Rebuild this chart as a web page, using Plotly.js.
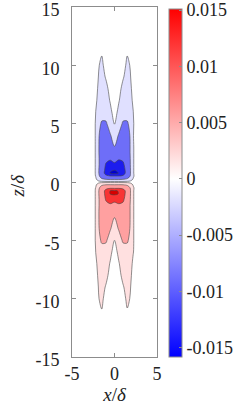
<!DOCTYPE html>
<html>
<head>
<meta charset="utf-8">
<script src="https://cdn.plot.ly/plotly-3.0.1.min.js"></script>
<style>html,body{margin:0;padding:0;background:#fff;}#chart{width:249px;height:415px;}</style>
</head>
<body>
<div id="chart"></div>
<script>
// ---- data (field values in units of 1e-3) ----
const UNIT = 1e-3;
const X_POS = [-5, -2.6, -2.2, -1.9, -1.5, -1, -0.5, 0, 0.5, 1, 1.5, 1.9, 2.2, 2.6, 5];
const Z_POS = [-15, -12, -11, -10, -9, -8, -7, -6, -5, -4, -3, -2.5, -2, -1.5, -1, -0.75, -0.5, -0.25,
               0, 0.25, 0.5, 0.75, 1, 1.5, 2, 2.5, 3, 4, 5, 6, 7, 8, 9, 10, 11, 12, 15];
const FIELD_MILLI = [
  [0,0,0,0,0,0,0,0,0,0,0,0,0,0,0],                       // -15
  [0,0,0,0,0,0,0,0,0,0,0,0,0,0,0],                       // -12
  [0,0,0,0.4,0.95,0.2,0,0,0,0.2,0.9,0.4,0,0,0],          // -11
  [0,0,0,0.9,1.4,0.3,0,0,0,0.3,1.4,0.85,0,0,0],          // -10
  [0,0,0,1.0,1.8,0.8,0,0,0,0.8,1.8,1.0,0,0,0],           // -9
  [0,0,0.3,1.3,2.2,1.6,0.3,0,0.3,1.6,2.2,1.3,0.3,0,0],   // -8
  [0,0,0.6,1.6,2.5,2.2,0.8,0,0.8,2.2,2.5,1.6,0.6,0,0],   // -7
  [0,0,1.05,1.5,3,3.2,1.6,0,1.6,3.2,3,1.5,1.1,0,0],      // -6
  [0,0,1.2,3.5,5.7,5.5,3.2,1.0,3.2,5.5,5.6,3.5,1.2,0,0], // -5
  [0,0,1.2,4.6,6.3,6,5.3,3.2,5.3,6,6.3,4.6,1.2,0,0],     // -4
  [0,0,1.2,4.7,6.5,7,6.2,5.1,6.2,7,6.5,4.7,1.2,0,0],     // -3
  [0,0,1.2,4.7,6.5,7.5,7.5,7,7.5,7.5,6.5,4.7,1.2,0,0],   // -2.5
  [0,0,1.2,4.6,6.5,8.5,9.3,8.8,9.3,8.8,6.5,4.7,1.2,0,0], // -2
  [0,0,1.2,4.6,6.5,10.5,11.8,11,11.8,11,7,4.8,1.2,0,0],  // -1.5
  [0,0,1.2,4.5,8,11,14.2,14.8,13.9,11.5,8.5,4.8,1.2,0,0],// -1
  [0,0,1.2,4.5,7.8,11.2,14.0,14.2,13.9,11.5,8.5,4.8,1.2,0,0], // -0.75
  [0,0,1.1,4,7,8.8,9.2,9.0,9.2,9.0,7.5,4.5,1.3,0,0],     // -0.5
  [0,0,0.6,2.5,4.5,5.3,5.4,5.3,5.4,5.3,4.5,2.5,0.8,0,0], // -0.25
  [0,0,0,0,0,0,0,0,0,0,0,0,0,0,0],                       // 0
  [0,0,-0.6,-2.5,-4.5,-5.5,-6,-6,-6,-5.5,-4.5,-2.5,-0.8,0,0],           // 0.25
  [0,0,-1.1,-4,-7,-9,-9.7,-9.8,-9.8,-9.5,-7.5,-4.5,-1.3,0,0],           // 0.5
  [0,0,-1.2,-4.5,-7.8,-11.5,-14.3,-14.8,-13.9,-11.5,-8.5,-4.8,-1.2,0,0],// 0.75
  [0,0,-1.2,-4.5,-8,-11,-13.6,-14.1,-13.6,-11.5,-8.5,-4.8,-1.2,0,0],    // 1
  [0,0,-1.2,-4.6,-6.5,-10.5,-12,-10.7,-12,-11,-7,-4.8,-1.2,0,0],        // 1.5
  [0,0,-1.2,-4.6,-6.5,-8.5,-9.3,-8.5,-9.5,-9,-6.5,-4.8,-1.2,0,0],       // 2
  [0,0,-1.2,-4.7,-6.5,-7.5,-7.5,-7,-7.5,-7.5,-6.5,-4.7,-1.2,0,0],       // 2.5
  [0,0,-1.2,-4.7,-6.5,-7,-6.2,-5.1,-6.2,-7,-6.5,-4.7,-1.2,0,0],         // 3
  [0,0,-1.2,-4.6,-6.3,-6,-5.3,-3.2,-5.3,-6,-6.3,-4.6,-1.1,0,0],         // 4
  [0,0,-1.2,-3.5,-5.6,-5.5,-3.2,-0.9,-3.2,-5.5,-5.6,-3.5,-1.2,0,0],     // 5
  [0,0,-1.05,-1.5,-3,-3.2,-1.6,0,-1.6,-3.2,-3,-1.5,-1.05,0,0],          // 6
  [0,0,-0.6,-1.6,-2.5,-2.2,-0.8,0,-0.8,-2.2,-2.5,-1.6,-0.6,0,0],        // 7
  [0,0,-0.3,-1.3,-2.2,-1.6,-0.3,0,-0.3,-1.6,-2.2,-1.3,-0.3,0,0],        // 8
  [0,0,0,-1.0,-1.8,-0.8,0,0,0,-0.8,-1.8,-1.0,0,0,0],                    // 9
  [0,0,0,-0.85,-1.4,-0.3,0,0,0,-0.3,-1.4,-0.85,0,0,0],                  // 10
  [0,0,0,-0.4,-0.9,-0.2,0,0,0,-0.2,-0.9,-0.4,0,0,0],                    // 11
  [0,0,0,0,0,0,0,0,0,0,0,0,0,0,0],                       // 12
  [0,0,0,0,0,0,0,0,0,0,0,0,0,0,0]                        // 15
];
const NEG_LEVELS = [-0.001, -0.005, -0.010, -0.014];
const NEG_COLORS = ['rgb(224,224,255)', 'rgb(110,110,248)', 'rgb(28,28,238)', 'rgb(0,0,205)'];
const POS_LEVELS = [0.001, 0.005, 0.010, 0.014];
const POS_COLORS = ['rgb(255,224,224)', 'rgb(255,160,160)', 'rgb(248,52,52)', 'rgb(215,0,0)'];
const CBAR_MIN = -0.01585, CBAR_MAX = 0.0151;
const CBAR_TICKS = [-0.015, -0.01, -0.005, 0, 0.005, 0.01, 0.015];
const CBAR_TICKTEXT = ['-0.015', '-0.01', '-0.005', '0', '0.005', '0.01', '0.015'];
const X_TICKS = [-5, 0, 5], X_TICKTEXT = ['-5', '0', '5'];
const Y_TICKS = [-15, -10, -5, 0, 5, 10, 15], Y_TICKTEXT = ['-15', '-10', '-5', '0', '5', '10', '15'];
const X_TITLE = '<i>x</i>/<i>δ</i>';
const Y_TITLE = '<i>z</i>/<i>δ</i>';

// ---- build ----
const Z = FIELD_MILLI.map(r => r.map(v => v * UNIT));
const FONT = 'Liberation Serif';
const lineStyle = {color: 'rgb(70,70,70)', width: 0.6, smoothing: 1};

// constraint contours shade the region that fails the test,
// so "value <= level" is drawn with operation '>' and vice versa
function levelTrace(level, color, op) {
  return {
    type: 'contour', x: X_POS, y: Z_POS, z: Z,
    contours: {type: 'constraint', operation: op, value: level},
    fillcolor: color, line: lineStyle, showscale: false, hoverinfo: 'skip'
  };
}
const traces = [];
NEG_LEVELS.forEach((l, i) => traces.push(levelTrace(l, NEG_COLORS[i], '>')));
POS_LEVELS.forEach((l, i) => traces.push(levelTrace(l, POS_COLORS[i], '<')));

const wPos = (0 - CBAR_MIN) / (CBAR_MAX - CBAR_MIN);
traces.push({
  type: 'scatter', x: [null], y: [null], mode: 'markers', hoverinfo: 'skip', showlegend: false,
  marker: {
    color: [0], cmin: CBAR_MIN, cmax: CBAR_MAX, showscale: true,
    colorscale: [[0, 'rgb(0,0,255)'], [wPos, 'rgb(255,255,255)'], [1, 'rgb(255,0,0)']],
    colorbar: {
      x: 1 + 12 / 85, xanchor: 'left', y: 0, yanchor: 'bottom',
      len: 348 / 350, lenmode: 'fraction', thickness: 13, thicknessmode: 'pixels',
      xpad: 0, ypad: 0, outlinecolor: 'rgb(140,140,140)', outlinewidth: 1,
      tickvals: CBAR_TICKS, ticktext: CBAR_TICKTEXT, ticks: 'inside', ticklen: 3,
      tickcolor: 'rgb(140,140,140)', ticklabeloverflow: 'allow',
      tickfont: {family: FONT, size: 18, color: '#222'}
    }
  }
});

const layout = {
  width: 249, height: 415,
  margin: {l: 72, r: 92, t: 7, b: 58, pad: 0},
  paper_bgcolor: '#fff', plot_bgcolor: '#fff', showlegend: false,
  font: {family: FONT, size: 18, color: '#222'},
  xaxis: {
    range: [-5, 5], tickvals: X_TICKS, ticktext: X_TICKTEXT,
    ticks: 'inside', ticklen: 4, tickcolor: 'rgb(140,140,140)', mirror: 'ticks',
    showline: true, linecolor: 'rgb(140,140,140)', linewidth: 1,
    showgrid: false, zeroline: false, ticklabelstandoff: 0,
    tickfont: {family: FONT, size: 18, color: '#222'},
    title: {text: X_TITLE, font: {family: FONT, size: 19, color: '#222'}, standoff: 0}
  },
  yaxis: {
    range: [-15, 15], tickvals: Y_TICKS, ticktext: Y_TICKTEXT,
    ticks: 'inside', ticklen: 4, tickcolor: 'rgb(140,140,140)', mirror: 'ticks',
    showline: true, linecolor: 'rgb(140,140,140)', linewidth: 1,
    showgrid: false, zeroline: false, ticklabelstandoff: 8, ticklabelshift: 3,
    ticklabeloverflow: 'allow',
    tickfont: {family: FONT, size: 18, color: '#222'},
    title: {text: ''}
  },
  annotations: [{
    text: Y_TITLE, textangle: -90, showarrow: false,
    xref: 'paper', yref: 'paper', x: (17 - 72) / 85, y: 0.49, xanchor: 'center', yanchor: 'middle',
    font: {family: FONT, size: 19, color: '#222'}
  }]
};
Plotly.newPlot('chart', traces, layout, {staticPlot: true, displayModeBar: false});
</script>
</body>
</html>
